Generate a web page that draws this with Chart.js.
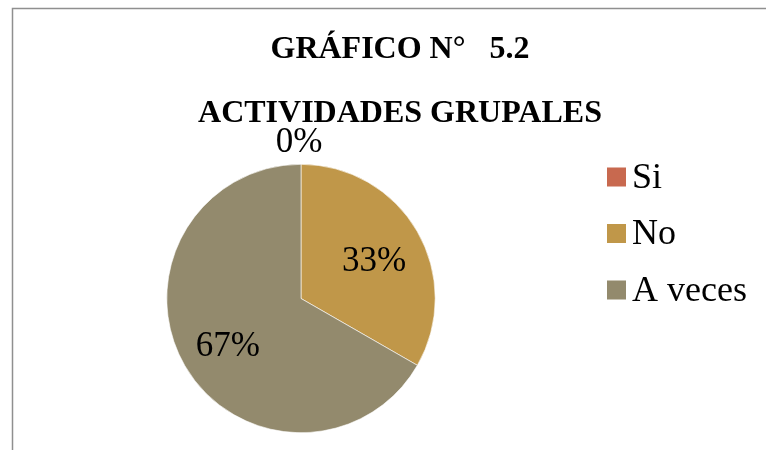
<!DOCTYPE html>
<html>
<head>
<meta charset="utf-8">
<script src="https://cdn.jsdelivr.net/npm/chart.js@4"></script>
<style>
  html, body { margin: 0; padding: 0; background: #ffffff; }
  #wrap { position: relative; width: 766px; height: 450px; }
  canvas { display: block; }
</style>
</head>
<body>
<div id="wrap"><canvas id="c" width="766" height="450"></canvas></div>
<script>
const titleLines = ["GRÁFICO N°   5.2", "ACTIVIDADES GRUPALES"];
const categories = ["Si", "No", "A veces"];
const values = [0, 33.3, 66.7];
const colors = ["#C8694F", "#C09749", "#938A6D"];

const SERIF = "'Liberation Serif', 'Times New Roman', serif";

const decor = {
  id: 'decor',
  beforeDraw(chart) {
    const ctx = chart.ctx;
    ctx.save();
    ctx.fillStyle = '#ffffff';
    ctx.fillRect(0, 0, chart.width, chart.height);
    ctx.strokeStyle = '#8f8f8f';
    ctx.lineWidth = 1.5;
    ctx.beginPath();
    ctx.moveTo(12.5, chart.height);
    ctx.lineTo(12.5, 8.5);
    ctx.lineTo(chart.width, 8.5);
    ctx.stroke();
    // title
    ctx.fillStyle = '#000000';
    ctx.font = 'bold 32px ' + SERIF;
    ctx.textAlign = 'center';
    ctx.textBaseline = 'alphabetic';
    ctx.fillText(titleLines[0], 400, 58);
    ctx.fillText(titleLines[1], 400, 122);
    ctx.restore();
  },
  afterDatasetsDraw(chart) {
    const ctx = chart.ctx;
    const meta = chart.getDatasetMeta(0);
    const data = chart.data.datasets[0].data;
    const total = data.reduce((a, b) => a + b, 0);
    ctx.save();
    ctx.fillStyle = '#000000';
    ctx.font = '35px ' + SERIF;
    ctx.textAlign = 'center';
    ctx.textBaseline = 'alphabetic';
    meta.data.forEach((arc, i) => {
      const p = arc.getProps(['x', 'y', 'startAngle', 'endAngle', 'outerRadius'], true);
      const pct = Math.round(data[i] / total * 100) + '%';
      const mid = (p.startAngle + p.endAngle) / 2;
      let tx, ty;
      if (data[i] === 0) {
        tx = p.x + Math.cos(mid) * (p.outerRadius + 12) - 2;
        ty = p.y + Math.sin(mid) * (p.outerRadius + 12);
      } else {
        const d = p.outerRadius * 0.63;
        tx = p.x + Math.cos(mid) * d;
        ty = p.y + Math.sin(mid) * d + 15;
      }
      ctx.fillText(pct, tx, ty);
    });
    // legend
    ctx.font = '36px ' + SERIF;
    ctx.textAlign = 'left';
    chart.data.labels.forEach((lab, i) => {
      const cy = 177 + i * 56.5;
      ctx.fillStyle = chart.data.datasets[0].backgroundColor[i];
      ctx.fillRect(607, cy - 9.5, 19, 19);
      ctx.fillStyle = '#000000';
      ctx.fillText(lab, 632, cy + 10.5);
    });
    ctx.restore();
  }
};

new Chart(document.getElementById('c'), {
  type: 'pie',
  data: {
    labels: categories,
    datasets: [{
      data: values,
      backgroundColor: colors,
      borderColor: '#ffffff',
      borderWidth: 0.6
    }]
  },
  options: {
    responsive: false,
    animation: false,
    layout: { padding: { left: 166, right: 330, top: 164, bottom: 17 } },
    plugins: {
      legend: { display: false },
      title: { display: false },
      tooltip: { enabled: false }
    }
  },
  plugins: [decor]
});
</script>
</body>
</html>
